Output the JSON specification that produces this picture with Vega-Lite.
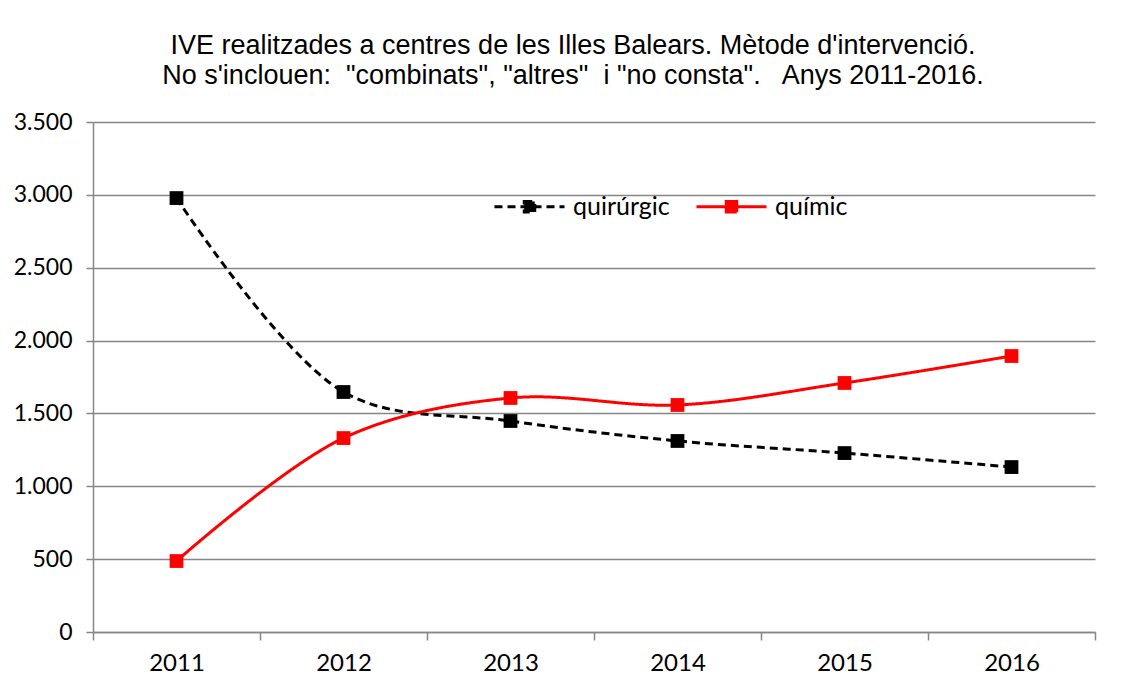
{
  "$schema": "https://vega.github.io/schema/vega-lite/v6.json",
  "width": 1002,
  "height": 510,
  "autosize": {"type": "none"},
  "padding": {"left": 93, "top": 122, "right": 33, "bottom": 50},
  "background": "white",
  "config": {
    "locale": {"number": {"decimal": ",", "thousands": ".", "grouping": [3], "currency": ["", "€"]}},
    "view": {"stroke": null},
    "axis": {"labelFont": "Lato", "labelFontSize": 24, "labelColor": "black", "domainColor": "#868686", "tickColor": "#868686", "gridColor": "#868686", "domainWidth": 1.5, "tickWidth": 1.5, "gridWidth": 1.5}
  },
  "title": {
    "text": ["IVE realitzades a centres de les Illes Balears. Mètode d'intervenció.", "No s'inclouen:\u00a0 \"combinats\", \"altres\"\u00a0 i \"no consta\".\u00a0\u00a0 Anys 2011-2016."],
    "font": "Liberation Sans",
    "fontSize": 27,
    "fontWeight": "normal",
    "lineHeight": 30,
    "anchor": "middle",
    "dx": -21,
    "offset": 21,
    "color": "black"
  },
  "data": {
    "values": [
      {"year": "2011", "metode": "quirúrgic", "value": 2978},
      {"year": "2012", "metode": "quirúrgic", "value": 1647},
      {"year": "2013", "metode": "quirúrgic", "value": 1448},
      {"year": "2014", "metode": "quirúrgic", "value": 1311},
      {"year": "2015", "metode": "quirúrgic", "value": 1228},
      {"year": "2016", "metode": "quirúrgic", "value": 1132},
      {"year": "2011", "metode": "químic", "value": 487},
      {"year": "2012", "metode": "químic", "value": 1331},
      {"year": "2013", "metode": "químic", "value": 1606},
      {"year": "2014", "metode": "químic", "value": 1558},
      {"year": "2015", "metode": "químic", "value": 1709},
      {"year": "2016", "metode": "químic", "value": 1894}
    ]
  },
  "encoding": {
    "x": {
      "field": "year", "type": "ordinal", "bandPosition": 0.5,
      "scale": {"type": "band", "paddingInner": 0, "paddingOuter": 0},
      "axis": {"title": null, "labelAngle": 0, "tickBand": "extent", "tickSize": 8, "labelPadding": 11, "grid": false}
    },
    "y": {
      "field": "value", "type": "quantitative",
      "scale": {"domain": [0, 3500], "nice": false},
      "axis": {"title": null, "values": [0, 500, 1000, 1500, 2000, 2500, 3000, 3500], "format": ",d", "tickSize": 7, "labelPadding": 14, "labelFontSize": 23, "grid": true}
    },
    "color": {
      "field": "metode", "type": "nominal",
      "scale": {"domain": ["quirúrgic", "químic"], "range": ["black", "#ff0000"]},
      "legend": {
        "title": null,
        "orient": "none",
        "legendX": 400,
        "legendY": 48,
        "direction": "horizontal",
        "symbolType": "M-1,0H1M-0.15,-0.15H0.15V0.15H-0.15Z",
        "symbolSize": 4900,
        "symbolStrokeWidth": 3,
        "labelFont": "Lato",
        "labelFontSize": 25,
        "labelColor": "black",
        "labelOffset": 7,
        "columnPadding": 20,
        "encode": {"symbols": {"update": {"fill": {"scale": "color", "field": "value"}, "fillOpacity": {"value": 1}}}}
      }
    },
    "strokeDash": {
      "field": "metode", "type": "nominal",
      "scale": {"domain": ["quirúrgic", "químic"], "range": [[8, 5], [1, 0]]},
      "legend": null
    }
  },
  "layer": [
    {"mark": {"type": "line", "strokeWidth": 3, "interpolate": "catmull-rom"}},
    {"mark": {"type": "point", "shape": "square", "size": 190, "filled": true, "opacity": 1}}
  ]
}
